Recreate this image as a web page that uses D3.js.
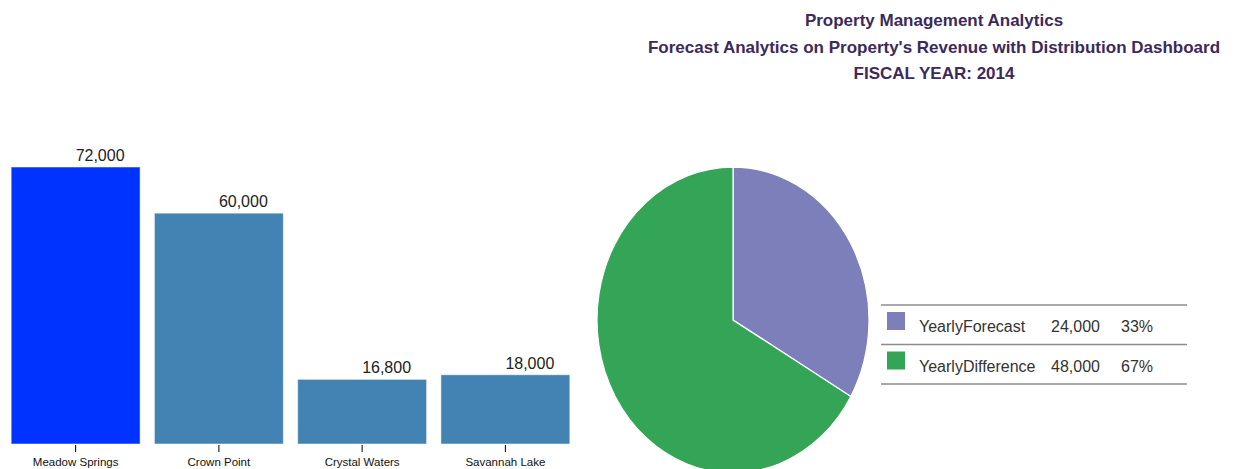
<!DOCTYPE html>
<html>
<head>
	<script src="https://cdn.jsdelivr.net/npm/d3@7"></script>
	<style>
		body { margin: 0; background: white; }
		text { font-family: "Liberation Sans", Arial, sans-serif; }
	</style>
</head>
<body>
	<script>
		// bar data
		var properties = ["Meadow Springs", "Crown Point", "Crystal Waters", "Savannah Lake"];
		var revenue = [72000, 60000, 16800, 18000];
		var barColors = ["#0033ff", "#4283b3", "#4283b3", "#4283b3"];

		// pie data
		var sliceNames = ["YearlyForecast", "YearlyDifference"];
		var sliceValues = [24000, 48000];
		var slicePct = ["33%", "67%"];
		var sliceColors = ["#7d7fba", "#34a556"];

		var titleLines = ["Property Management Analytics",
			"Forecast Analytics on Property's Revenue with Distribution Dashboard",
			"FISCAL YEAR: 2014"];

		var width = 1235, height = 469;
		var fmt = d3.format(",");

		var svg = d3.select("body").append("svg")
			.attr("width", width)
			.attr("height", height);

		/* title */
		svg.selectAll(".title").data(titleLines).enter().append("text")
			.attr("class", "title")
			.attr("x", 934)
			.attr("y", function(d, i) { return 26 + i * 26.5; })
			.attr("text-anchor", "middle")
			.style("font-size", "17px")
			.style("font-weight", "bold")
			.style("fill", "#3b2a5c")
			.text(function(d) { return d; });

		/* bar chart */
		var x = d3.scaleBand()
			.domain(properties)
			.range([4, 577])
			.paddingInner(0.1)
			.paddingOuter(0.05);

		var y = d3.scaleLinear()
			.domain([0, 72000])
			.range([444, 167]);

		var bars = svg.append("g");

		bars.selectAll("rect").data(properties).enter().append("rect")
			.attr("x", function(d) { return x(d); })
			.attr("y", function(d, i) { return y(revenue[i]); })
			.attr("width", x.bandwidth())
			.attr("height", function(d, i) { return y(0) - y(revenue[i]); })
			.attr("fill", function(d, i) { return barColors[i]; })
			.attr("stroke", "rgba(255,255,255,0.5)")
			.attr("stroke-width", 1);

		bars.selectAll(".val").data(properties).enter().append("text")
			.attr("class", "val")
			.attr("x", function(d) { return x(d) + x.bandwidth() / 2; })
			.attr("y", function(d, i) { return y(revenue[i]) - 6; })
			.style("font-size", "16px")
			.style("fill", "#222")
			.text(function(d, i) { return fmt(revenue[i]); });

		var xAxis = svg.append("g")
			.attr("transform", "translate(0," + 445 + ")")
			.call(d3.axisBottom(x).tickSize(7).tickPadding(6));
		xAxis.select(".domain").remove();
		xAxis.selectAll("text")
			.style("font-size", "11.5px")
			.style("fill", "#111")
			.style("font-family", "'Liberation Sans', Arial, sans-serif");

		/* pie chart (slightly stretched vertically as in the original) */
		var pie = d3.pie().sort(null);
		var arc = d3.arc().innerRadius(0).outerRadius(136);

		var pieG = svg.append("g")
			.attr("transform", "translate(733,320) scale(1,1.125)");

		pieG.selectAll("path").data(pie(sliceValues)).enter().append("path")
			.attr("d", arc)
			.attr("fill", function(d, i) { return sliceColors[i]; })
			.attr("stroke", "white")
			.attr("stroke-width", 1.2);

		/* legend table */
		var legend = svg.append("g").attr("transform", "translate(881,305)");
		var rowH = 39.5;

		legend.selectAll("line").data(d3.range(sliceNames.length + 1)).enter().append("line")
			.attr("x1", 0)
			.attr("x2", 306)
			.attr("y1", function(d) { return d * rowH; })
			.attr("y2", function(d) { return d * rowH; })
			.attr("stroke", "#8c8c8c")
			.attr("stroke-width", 1.5);

		var rows = legend.selectAll(".row").data(sliceNames).enter().append("g")
			.attr("class", "row")
			.attr("transform", function(d, i) { return "translate(0," + i * rowH + ")"; });

		rows.append("rect")
			.attr("x", 6)
			.attr("y", 7)
			.attr("width", 18)
			.attr("height", 18)
			.attr("fill", function(d, i) { return sliceColors[i]; });

		rows.append("text")
			.attr("x", 38)
			.attr("y", 27)
			.style("font-size", "16px")
			.style("fill", "#333")
			.text(function(d) { return d; });

		rows.append("text")
			.attr("x", 170)
			.attr("y", 27)
			.style("font-size", "16px")
			.style("fill", "#333")
			.text(function(d, i) { return fmt(sliceValues[i]); });

		rows.append("text")
			.attr("x", 240)
			.attr("y", 27)
			.style("font-size", "16px")
			.style("fill", "#333")
			.text(function(d, i) { return slicePct[i]; });
	</script>
</body>
</html>
